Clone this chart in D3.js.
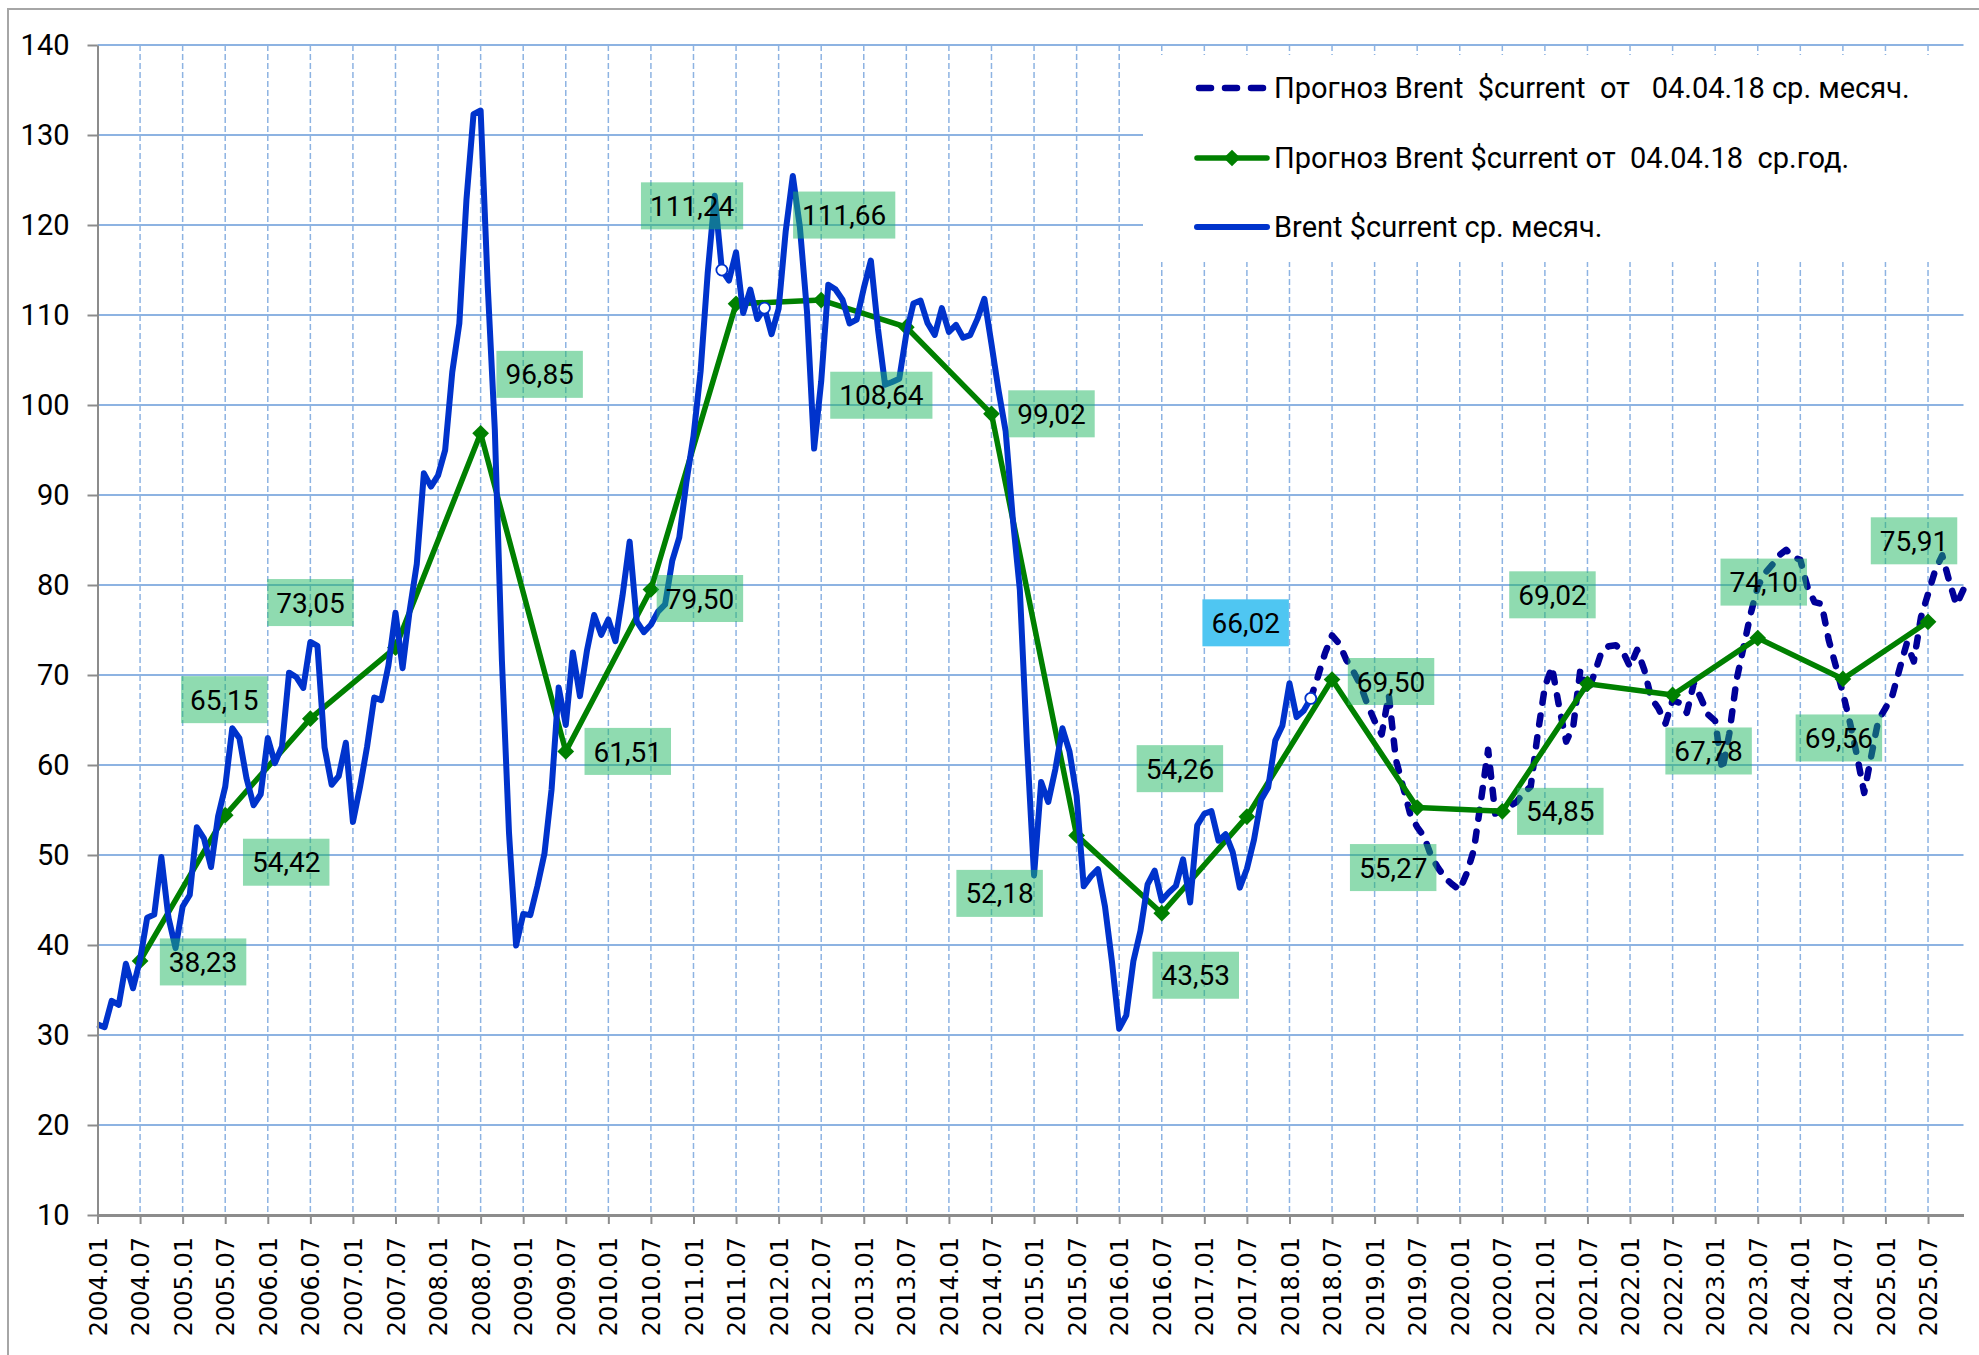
<!DOCTYPE html>
<html>
<head>
<meta charset="utf-8">
<script src="https://cdnjs.cloudflare.com/ajax/libs/d3/7.8.5/d3.min.js"></script>
<style>
	body { margin: 0; background: #ffffff; }
	svg { display: block; }
</style>
</head>
<body>
<div id="chart"></div>
<script>

//---- data -------------------------------------------------------------

var tickLabels = [
	"2004.01", "2004.07", "2005.01", "2005.07", "2006.01", "2006.07", "2007.01", "2007.07",
	"2008.01", "2008.07", "2009.01", "2009.07", "2010.01", "2010.07", "2011.01", "2011.07",
	"2012.01", "2012.07", "2013.01", "2013.07", "2014.01", "2014.07", "2015.01", "2015.07",
	"2016.01", "2016.07", "2017.01", "2017.07", "2018.01", "2018.07", "2019.01", "2019.07",
	"2020.01", "2020.07", "2021.01", "2021.07", "2022.01", "2022.07", "2023.01", "2023.07",
	"2024.01", "2024.07", "2025.01", "2025.07"
];

var yTicks = [10, 20, 30, 40, 50, 60, 70, 80, 90, 100, 110, 120, 130, 140];

//Brent $current, monthly average, from 2004.01
var actualStart = "2004.01";
var brentActual = [
	31.18, 30.87, 33.80, 33.36, 37.92, 35.19, 38.37, 43.03, 43.38, 49.77, 43.05, 39.65,
	44.28, 45.56, 53.08, 51.86, 48.67, 54.31, 57.58, 64.09, 62.98, 58.52, 55.53, 56.75,
	62.99, 60.21, 62.06, 70.26, 69.78, 68.56, 73.67, 73.23, 61.96, 57.81, 58.76, 62.47,
	53.68, 57.56, 62.05, 67.49, 67.21, 71.05, 76.93, 70.76, 77.17, 82.34, 92.41, 90.93,
	92.18, 94.99, 103.64, 109.07, 122.80, 132.32, 132.72, 113.24, 97.23, 71.58, 52.45, 39.95,
	43.44, 43.32, 46.54, 50.18, 57.30, 68.61, 64.44, 72.51, 67.65, 72.77, 76.66, 74.46,
	76.17, 73.75, 78.83, 84.82, 75.95, 74.76, 75.58, 77.04, 77.84, 82.67, 85.28, 91.45,
	96.52, 103.72, 114.64, 123.26, 114.99, 113.83, 116.97, 110.22, 112.83, 109.55, 110.77, 107.87,
	110.69, 119.33, 125.45, 119.75, 110.34, 95.16, 102.62, 113.36, 112.86, 111.71, 109.06, 109.49,
	112.96, 116.05, 108.47, 102.25, 102.56, 102.92, 107.93, 111.28, 111.60, 109.08, 107.79, 110.76,
	108.12, 108.90, 107.48, 107.76, 109.54, 111.80, 106.77, 101.61, 97.09, 87.43, 79.44, 62.34,
	47.76, 58.10, 55.89, 59.52, 64.08, 61.48, 56.56, 46.52, 47.62, 48.43, 44.27, 38.01,
	30.70, 32.18, 38.21, 41.58, 46.74, 48.25, 44.95, 45.84, 46.57, 49.52, 44.73, 53.31,
	54.58, 54.87, 51.59, 52.31, 50.33, 46.37, 48.48, 51.70, 56.15, 57.51, 62.71, 64.37,
	69.08, 65.32, 66.02, 67.40
];

//Forecast of 04.04.18, monthly average, from 2018.04
var forecastStart = "2018.04";
var brentForecast = [
	67.4, 69.8, 72.4, 74.4, 73.5, 71.7, 70.4, 68.9, 66.7,
	64.9, 63.4, 67.8, 60.6, 57.6, 54.6, 53.1, 52.0, 49.8, 48.5, 47.4, 46.7,
	46.1, 48.0, 50.6, 56.1, 61.7, 54.6, 55.0, 55.4, 55.9, 56.9, 57.6, 63.5,
	68.7, 70.9, 66.5, 62.6, 64.3, 70.6, 68.0, 70.2, 72.6, 73.2, 73.3, 72.6,
	70.9, 72.8, 70.6, 67.4, 66.3, 64.6, 67.2, 66.9, 65.8, 69.1, 67.4, 65.6,
	64.9, 59.4, 63.5, 69.4, 73.1, 76.8, 79.8, 81.3, 82.2, 83.3, 83.9, 83.1,
	82.8, 79.8, 78.1, 77.9, 73.9, 71.0, 68.0, 64.7, 61.0, 56.9, 61.0, 65.0,
	66.3, 67.8, 70.7, 73.5, 71.5, 76.4, 79.0, 81.6, 83.3, 80.4, 77.8, 79.5
];

//Forecast of 04.04.18, yearly average (plotted at July)
var annualMonths = [
	"2004.07", "2005.07", "2006.07", "2007.07", "2008.07", "2009.07", "2010.07", "2011.07",
	"2012.07", "2013.07", "2014.07", "2015.07", "2016.07", "2017.07", "2018.07", "2019.07",
	"2020.07", "2021.07", "2022.07", "2023.07", "2024.07", "2025.07"
];
var annualValues = [
	38.23, 54.42, 65.15, 73.05, 96.85, 61.51, 79.50, 111.24,
	111.66, 108.64, 99.02, 52.18, 43.53, 54.26, 69.50, 55.27,
	54.85, 69.02, 67.78, 74.10, 69.56, 75.91
];

//single points that carry a hollow marker in the source
var hollowMonths = ["2011.05", "2011.11", "2018.04"];

//actual March 2018 value, shown in a separate blue label
var noteMonth = "2018.03";
var noteValue = 66.02;

var legendNames = [
	"Прогноз Brent  $current  от   04.04.18 ср. месяч.",
	"Прогноз Brent $current от  04.04.18  ср.год.",
	"Brent $current ср. месяч."
];

//---- layout -----------------------------------------------------------

var width = 1979, height = 1355;
var plot = {left: 97.5, right: 1963.5, top: 45, bottom: 1215};

//label box centre offsets from each yearly point, in pixels
var annualLabelOffsets = [
	[63, 1], [61, 47], [-86, -19], [-85, -45], [59, -59], [62, 0], [49, 9], [-44, -98],
	[23, -85], [-25, 68], [60, 0], [-77, 58], [34, 62], [-67, -48], [59, 2], [-24, 60],
	[58, 0], [-35, -89], [36, 56], [6, -56], [-4, 59], [-14, -81]
];
var noteOffset = [-58, -88];

var colors = {
	actual: "#0033cc",
	forecast: "#000099",
	annual: "#008000",
	grid: "#8db3e2",
	axis: "#8c8c8c",
	labelBox: "#1fb861",
	noteBox: "#4fc6f2"
};

var labelFont = "Roboto, 'Liberation Sans', sans-serif";

function monthIndex(key)
{
	var p = key.split(".");
	return (+p[0] - 2004) * 12 + (+p[1] - 1);
}

function commaFormat(v)
{
	return d3.format(".2f")(v).replace(".", ",");
}

//---- svg --------------------------------------------------------------

var svg = d3.select("#chart").append("svg")
	.attr("width", width)
	.attr("height", height);

svg.append("rect")
	.attr("width", width).attr("height", height)
	.attr("fill", "#ffffff");

//outer chart frame, only top and left edges are in view
svg.append("rect")
	.attr("x", 8).attr("y", 9)
	.attr("width", width + 50).attr("height", height + 50)
	.attr("fill", "none")
	.attr("stroke", "#a6a6a6")
	.attr("stroke-width", 2);

var x = d3.scaleLinear()
	.domain([0, 263])
	.range([plot.left, plot.right]);

var y = d3.scaleLinear()
	.domain([10, 140])
	.range([plot.bottom, plot.top]);

var tickIndex = tickLabels.map(monthIndex);

//---- grid -------------------------------------------------------------

var grid = svg.append("g").attr("class", "grid");

grid.selectAll(".vgrid")
	.data(tickIndex.slice(1))
	.enter()
		.append("line")
			.attr("class", "vgrid")
			.attr("x1", function(d){ return x(d); })
			.attr("x2", function(d){ return x(d); })
			.attr("y1", plot.top)
			.attr("y2", plot.bottom)
			.attr("stroke", colors.grid)
			.attr("stroke-width", 1.5)
			.attr("stroke-dasharray", "6,3");

grid.selectAll(".hgrid")
	.data(yTicks.slice(1))
	.enter()
		.append("line")
			.attr("class", "hgrid")
			.attr("x1", plot.left)
			.attr("x2", plot.right)
			.attr("y1", function(d){ return y(d); })
			.attr("y2", function(d){ return y(d); })
			.attr("stroke", colors.grid)
			.attr("stroke-width", 2.2);

//legend background hides the grid behind it
svg.append("rect")
	.attr("x", 1143).attr("y", 55)
	.attr("width", plot.right - 1143 + 1).attr("height", 207)
	.attr("fill", "#ffffff");

//---- series -----------------------------------------------------------

var actualData = brentActual.map(function(v, i){ return {i: monthIndex(actualStart) + i, v: v}; });
var forecastData = brentForecast.map(function(v, i){ return {i: monthIndex(forecastStart) + i, v: v}; });
var annualData = annualValues.map(function(v, i){ return {i: monthIndex(annualMonths[i]), v: v, off: annualLabelOffsets[i]}; });

var line = d3.line()
	.x(function(d){ return x(d.i); })
	.y(function(d){ return y(d.v); });

svg.append("path")
	.datum(forecastData)
	.attr("d", line)
	.attr("fill", "none")
	.attr("stroke", colors.forecast)
	.attr("stroke-width", 6.5)
	.attr("stroke-linecap", "round")
	.attr("stroke-linejoin", "round")
	.attr("stroke-dasharray", "9,13");

svg.append("path")
	.datum(annualData)
	.attr("d", line)
	.attr("fill", "none")
	.attr("stroke", colors.annual)
	.attr("stroke-width", 5.5)
	.attr("stroke-linejoin", "round");

var diamond = d3.symbol().type(d3.symbolSquare).size(140);

svg.selectAll(".diamond")
	.data(annualData)
	.enter()
		.append("path")
			.attr("class", "diamond")
			.attr("d", diamond)
			.attr("transform", function(d){ return "translate(" + x(d.i) + "," + y(d.v) + ") rotate(45)"; })
			.attr("fill", colors.annual);

svg.append("path")
	.datum(actualData)
	.attr("d", line)
	.attr("fill", "none")
	.attr("stroke", colors.actual)
	.attr("stroke-width", 6)
	.attr("stroke-linejoin", "round");

var hollowData = actualData.filter(function(d){
	return hollowMonths.map(monthIndex).indexOf(d.i) >= 0;
});

svg.selectAll(".hollow")
	.data(hollowData)
	.enter()
		.append("circle")
			.attr("class", "hollow")
			.attr("cx", function(d){ return x(d.i); })
			.attr("cy", function(d){ return y(d.v); })
			.attr("r", 5.5)
			.attr("fill", "#ffffff")
			.attr("stroke", colors.actual)
			.attr("stroke-width", 1.8);

//---- data labels ------------------------------------------------------

function addLabel(cx, cy, text, fill, opacity)
{
	var g = svg.append("g").attr("transform", "translate(" + cx + "," + cy + ")");
	var rect = g.append("rect");
	var t = g.append("text")
		.attr("text-anchor", "middle")
		.attr("dy", "0.36em")
		.attr("font-family", labelFont)
		.attr("font-size", 28)
		.attr("fill", "#000000")
		.text(text);
	var w = t.node().getComputedTextLength() + 18;
	rect
		.attr("x", -w / 2).attr("y", -23.5)
		.attr("width", w).attr("height", 47)
		.attr("fill", fill)
		.attr("fill-opacity", opacity);
}

annualData.forEach(function(d)
{
	addLabel(x(d.i) + d.off[0], y(d.v) + d.off[1], commaFormat(d.v), colors.labelBox, 0.5);
});

addLabel(x(monthIndex(noteMonth)) + noteOffset[0], y(noteValue) + noteOffset[1], commaFormat(noteValue), colors.noteBox, 1);

//---- axes -------------------------------------------------------------

var yAxis = svg.append("g")
	.attr("transform", "translate(" + plot.left + ",0)")
	.call(d3.axisLeft(y).tickValues(yTicks).tickSize(10).tickSizeOuter(0).tickPadding(18));

yAxis.select(".domain").attr("stroke", colors.axis).attr("stroke-width", 2);
yAxis.selectAll(".tick line").attr("stroke", colors.axis).attr("stroke-width", 2);
yAxis.selectAll(".tick text")
	.attr("font-family", labelFont)
	.attr("font-size", 29)
	.attr("fill", "#000000");

var xAxis = svg.append("g")
	.attr("transform", "translate(0," + plot.bottom + ")")
	.call(d3.axisBottom(x)
		.tickValues(tickIndex)
		.tickSize(9)
		.tickSizeOuter(0)
		.tickFormat(function(d, i){ return tickLabels[i]; }));

xAxis.select(".domain").attr("stroke", colors.axis).attr("stroke-width", 3);
xAxis.selectAll(".tick line").attr("stroke", colors.axis).attr("stroke-width", 2);
xAxis.selectAll(".tick text")
	.attr("font-family", "'DejaVu Sans', sans-serif")
	.attr("font-size", 24)
	.attr("fill", "#000000")
	.attr("text-anchor", "end")
	.attr("y", 0)
	.attr("dy", "0.36em")
	.attr("transform", "translate(0,22) rotate(-90)");

//---- legend -----------------------------------------------------------

var legend = svg.append("g").attr("class", "legend");
var legendY = [88, 158, 227];

legend.selectAll("text")
	.data(legendNames)
	.enter()
		.append("text")
			.attr("x", 1274)
			.attr("y", function(d, i){ return legendY[i]; })
			.attr("dy", "0.36em")
			.attr("font-family", labelFont)
			.attr("font-size", 29)
			.attr("fill", "#000000")
			.style("white-space", "pre")
			.text(function(d){ return d; });

legend.append("line")
	.attr("x1", 1199).attr("x2", 1265)
	.attr("y1", legendY[0]).attr("y2", legendY[0])
	.attr("stroke", colors.forecast)
	.attr("stroke-width", 6.5)
	.attr("stroke-linecap", "round")
	.attr("stroke-dasharray", "12,14");

legend.append("line")
	.attr("x1", 1197).attr("x2", 1267)
	.attr("y1", legendY[1]).attr("y2", legendY[1])
	.attr("stroke", colors.annual)
	.attr("stroke-width", 5.5)
	.attr("stroke-linecap", "round");

legend.append("path")
	.attr("d", diamond)
	.attr("transform", "translate(1232," + legendY[1] + ") rotate(45)")
	.attr("fill", colors.annual);

legend.append("line")
	.attr("x1", 1197).attr("x2", 1267)
	.attr("y1", legendY[2]).attr("y2", legendY[2])
	.attr("stroke", colors.actual)
	.attr("stroke-width", 6)
	.attr("stroke-linecap", "round");

</script>
</body>
</html>
